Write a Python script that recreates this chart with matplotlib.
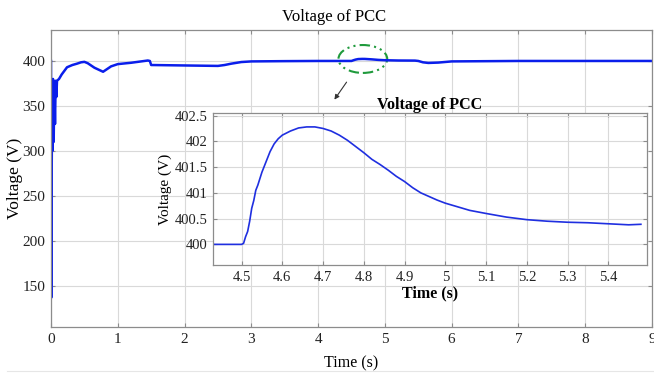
import matplotlib.pyplot as plt
from matplotlib.patches import Ellipse
from matplotlib.lines import Line2D

plt.rcParams['font.family'] = ['Liberation Serif', 'DejaVu Serif']

# courbe principale (tension au PCC)
t_main = [0.0, 0.004, 0.008, 0.015, 0.02, 0.03, 0.04, 0.05, 0.06, 0.07, 0.08, 0.09,
          0.12, 0.16, 0.24, 0.32, 0.39, 0.45, 0.5, 0.55, 0.65, 0.78, 0.9, 1.0,
          1.2, 1.3, 1.45, 1.48, 1.5, 2.0, 2.5, 2.6, 2.7, 2.85, 3.0, 3.5, 4.0, 4.5,
          4.53, 4.56, 4.6, 4.66, 4.7, 4.8, 4.9, 5.0, 5.2, 5.45, 5.5, 5.57, 5.65,
          5.8, 6.0, 7.0, 8.0, 9.0]
v_main = [400, 137, 250, 330, 300, 380, 310, 372, 330, 378, 360, 378,
          380, 385, 393, 395.5, 397, 398.5, 399, 397.5, 392.5, 388, 394, 396.5,
          398, 399, 400.5, 400, 395.5, 395, 394.5, 395.5, 397, 398.8, 399.5, 399.8, 400, 400,
          400.8, 401.5, 402.1, 402.28, 402.25, 401.8, 401.2, 400.8, 400.5, 400.4, 400, 398.5, 397.8,
          398.2, 399.5, 400, 400, 400]

# zoom 4.43 - 5.48 s
t_zoom = [4.43, 4.50, 4.505, 4.51, 4.515, 4.52, 4.525, 4.53, 4.535, 4.54, 4.55, 4.56,
          4.57, 4.58, 4.59, 4.60, 4.62, 4.64, 4.66, 4.68, 4.70, 4.72, 4.74, 4.76,
          4.78, 4.80, 4.82, 4.84, 4.86, 4.88, 4.90, 4.92, 4.94, 4.96, 4.98, 5.00,
          5.03, 5.06, 5.10, 5.15, 5.20, 5.25, 5.30, 5.35, 5.40, 5.45, 5.48]
v_zoom = [400.0, 400.0, 400.02, 400.15, 400.25, 400.45, 400.7, 400.85, 401.05, 401.15, 401.4, 401.6,
          401.8, 401.95, 402.05, 402.12, 402.2, 402.26, 402.28, 402.28, 402.25, 402.2, 402.12, 402.02,
          401.9, 401.78, 401.65, 401.55, 401.44, 401.32, 401.22, 401.1, 401.0, 400.93, 400.86, 400.8,
          400.73, 400.66, 400.6, 400.53, 400.48, 400.45, 400.43, 400.42, 400.4, 400.38, 400.39]

main_xticks = list(range(0, 10))
main_yticks = [150, 200, 250, 300, 350, 400]
zoom_xticks = [4.5, 4.6, 4.7, 4.8, 4.9, 5.0, 5.1, 5.2, 5.3, 5.4]
zoom_xlabels = ['4.5', '4.6', '4.7', '4.8', '4.9', '5', '5.1', '5.2', '5.3', '5.4']
zoom_yticks = [400, 400.5, 401, 401.5, 402, 402.5]
zoom_ylabels = ['400', '400.5', '401', '401.5', '402', '402.5']

W, H = 654, 376
fig = plt.figure(figsize=(W / 100, H / 100), dpi=100)

def style_axes(ax, size):
    for s in ax.spines.values():
        s.set_color('#8c8c8c')
        s.set_linewidth(0.9)
    ax.grid(True, color='#d9d9d9', linewidth=0.8)
    ax.set_axisbelow(True)
    ax.tick_params(direction='in', top=True, right=True, length=3, width=0.8,
                   color='#8c8c8c', labelsize=size, pad=4, labelcolor='#222222')

# axes principal
ax = fig.add_axes([51 / W, 1 - 327 / H, 601 / W, 297 / H])
ax.plot(t_main, v_main, color='#0a1eeb', linewidth=1.8)
ax.set_xlim(0, 9)
ax.set_ylim(104.4, 434.4)
ax.set_xticks(main_xticks)
ax.set_yticks(main_yticks)
style_axes(ax, 11)
ax.set_xlabel('Time (s)', fontsize=11.5)
ax.xaxis.set_label_coords(0.5, -0.095)
ax.set_ylabel('Voltage (V)', fontsize=12.5)
ax.yaxis.set_label_coords(-0.047, 0.5)
fig.text(334 / W, 1 - 17 / H, 'Voltage of PCC', ha='center', va='center', fontsize=12)

# ellipse + fleche
ell = Ellipse((4.67, 402.2), 0.73, 31, fill=False, edgecolor='#1f9a3c',
              linestyle=(0, (5, 2, 1, 2, 1, 2)), linewidth=1.5)
ax.add_patch(ell)
ax.annotate('', xy=(4.22, 354.5), xytext=(4.45, 379),
            arrowprops=dict(arrowstyle='-|>', color='#333333', lw=0.8, mutation_scale=7))

# zoom
axz = fig.add_axes([213 / W, 1 - 265 / H, 434 / W, 152 / H])
axz.set_facecolor('white')
axz.plot(t_zoom, v_zoom, color='#1f2fe0', linewidth=1.2)
axz.set_xlim(4.43, 5.495)
axz.set_ylim(399.6, 402.55)
axz.set_xticks(zoom_xticks)
axz.set_xticklabels(zoom_xlabels)
axz.set_yticks(zoom_yticks)
axz.set_yticklabels(zoom_ylabels)
style_axes(axz, 10.5)
axz.set_xlabel('Time (s)', fontsize=11.5, fontweight='bold', labelpad=1)
axz.set_ylabel('Voltage (V)', fontsize=11, labelpad=2)
axz.set_title('Voltage of PCC', fontsize=11.5, fontweight='bold', pad=3)

# ligne de separation en bas
fig.add_artist(Line2D([7 / W, 1], [1 - 371 / H, 1 - 371 / H], color='#e6e6e6', linewidth=0.8))

fig.savefig('out.png', dpi=100, facecolor='white')
